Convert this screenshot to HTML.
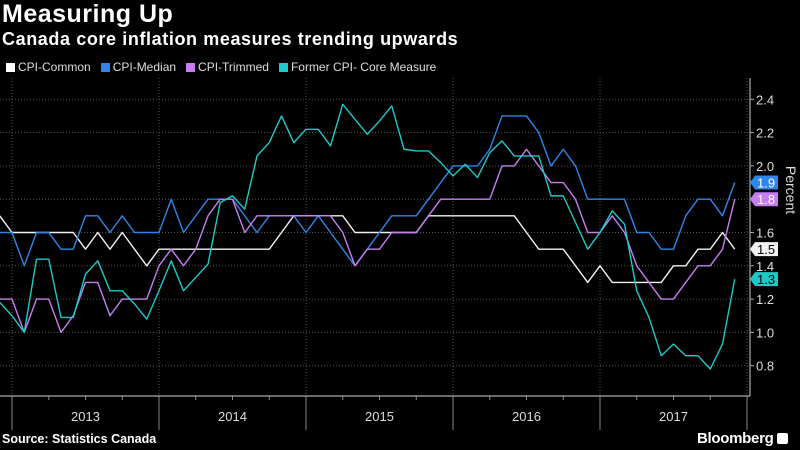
<!DOCTYPE html>
<html><head><meta charset="utf-8">
<style>
html,body{margin:0;padding:0;background:#000;}
body{width:800px;height:450px;overflow:hidden;position:relative;font-family:"Liberation Sans","DejaVu Sans",sans-serif;color:#fff;}
#title{position:absolute;left:2px;top:0px;font-size:25px;font-weight:bold;letter-spacing:0.5px;}
#subtitle{position:absolute;left:2px;top:29px;font-size:18px;font-weight:bold;letter-spacing:0.6px;}
#legend{position:absolute;left:6px;top:60px;font-size:12px;color:#ddd;display:flex;gap:10px;}
.lg{display:flex;align-items:center;}
.sw{width:9px;height:9px;margin-right:3px;display:inline-block;}
#source{position:absolute;left:2px;top:432px;font-size:12.5px;font-weight:bold;}
#brand{position:absolute;left:697px;top:430px;font-size:15px;font-weight:bold;letter-spacing:-0.3px;}
svg{position:absolute;left:0;top:0;}
</style></head><body>
<div id="title">Measuring Up</div>
<div id="subtitle">Canada core inflation measures trending upwards</div>
<div id="legend">
 <span class="lg"><span class="sw" style="background:#fff"></span>CPI-Common</span>
 <span class="lg"><span class="sw" style="background:#2f86e8"></span>CPI-Median</span>
 <span class="lg"><span class="sw" style="background:#c67ef0"></span>CPI-Trimmed</span>
 <span class="lg"><span class="sw" style="background:#1fc9c9"></span>Former CPI- Core Measure</span>
</div>
<div id="source">Source: Statistics Canada</div>
<div id="brand">Bloomberg <span style="display:inline-block;width:11px;height:11px;background:#fff;border-radius:2px;vertical-align:-1px"></span></div>
<svg id="chart" width="800" height="450"></svg>
<script>
const years = ["2013","2014","2015","2016","2017"];
const yTicks = [0.8,1.0,1.2,1.4,1.6,1.8,2.0,2.2,2.4];
const common = [1.7,1.6,1.6,1.6,1.6,1.6,1.6,1.5,1.6,1.5,1.6,1.5,1.4,1.5,1.5,1.5,1.5,1.5,1.5,1.5,1.5,1.5,1.5,1.6,1.7,1.7,1.7,1.7,1.7,1.6,1.6,1.6,1.6,1.6,1.6,1.7,1.7,1.7,1.7,1.7,1.7,1.7,1.7,1.6,1.5,1.5,1.5,1.4,1.3,1.4,1.3,1.3,1.3,1.3,1.3,1.4,1.4,1.5,1.5,1.6,1.5];
const median = [1.6,1.6,1.4,1.6,1.6,1.5,1.5,1.7,1.7,1.6,1.7,1.6,1.6,1.6,1.8,1.6,1.7,1.8,1.8,1.8,1.7,1.6,1.7,1.7,1.7,1.6,1.7,1.6,1.5,1.4,1.5,1.6,1.7,1.7,1.7,1.8,1.9,2.0,2.0,2.0,2.1,2.3,2.3,2.3,2.2,2.0,2.1,2.0,1.8,1.8,1.8,1.8,1.6,1.6,1.5,1.5,1.7,1.8,1.8,1.7,1.9];
const trimmed = [1.2,1.2,1.0,1.2,1.2,1.0,1.1,1.3,1.3,1.1,1.2,1.2,1.2,1.4,1.5,1.4,1.5,1.7,1.8,1.8,1.6,1.7,1.7,1.7,1.7,1.7,1.7,1.7,1.6,1.4,1.5,1.5,1.6,1.6,1.6,1.7,1.8,1.8,1.8,1.8,1.8,2.0,2.0,2.1,2.0,1.9,1.9,1.8,1.6,1.6,1.7,1.6,1.4,1.3,1.2,1.2,1.3,1.4,1.4,1.5,1.8];
const former = [1.18,1.1,1.0,1.44,1.44,1.09,1.09,1.35,1.43,1.25,1.25,1.17,1.08,1.25,1.43,1.25,1.33,1.41,1.78,1.82,1.74,2.06,2.14,2.3,2.14,2.22,2.22,2.12,2.37,2.28,2.19,2.27,2.36,2.1,2.09,2.09,2.02,1.94,2.01,1.93,2.08,2.15,2.06,2.06,2.06,1.82,1.82,1.66,1.5,1.6,1.73,1.65,1.25,1.09,0.86,0.93,0.86,0.86,0.78,0.93,1.32];
const NS="http://www.w3.org/2000/svg";
const svg=document.getElementById('chart');
const xAt=i=>12.25*i-0.25;
const yAt=v=>99.3+(2.4-v)/0.2*33.3;
function mk(tag,attrs,parent){const e=document.createElementNS(NS,tag);for(const k in attrs)e.setAttribute(k,attrs[k]);(parent||svg).appendChild(e);return e;}
yTicks.forEach(v=>{
 const g=mk('line',{x1:0,x2:750,y1:yAt(v),y2:yAt(v),stroke:'#555','stroke-dasharray':'1,2','stroke-width':1});
 
 
 const t=mk('line',{x1:750,x2:754,y1:yAt(v),y2:yAt(v),stroke:'#aaa'});
 
 
 const l=mk('text',{x:756,y:yAt(v)+5,fill:'#ddd','font-size':13});
 l.textContent=v.toFixed(1);
 
 
});
for(let k=0;k<=years.length;k++){
 const x=xAt(1+12*k);
 const g=mk('line',{x1:x,x2:x,y1:78,y2:396,stroke:'#555','stroke-dasharray':'1,2'});
 
 
 const t=mk('line',{x1:x,x2:x,y1:396,y2:430,stroke:'#888'});
 
 
}
for(let q=1;q<20;q++){if(q%4===0)continue;const x=xAt(1+3*q);
 const t=mk('line',{x1:x,x2:x,y1:396,y2:400,stroke:'#888'});
 
 }
years.forEach((y,k)=>{
 const t=mk('text',{x:xAt(1+12*k+6),y:421,fill:'#ddd','font-size':13,'text-anchor':'middle'});
 t.textContent=y;
 
 
});
const ax=mk('line',{x1:0,x2:750,y1:396,y2:396,stroke:'#aaa','stroke-width':1.2});


const ay=mk('line',{x1:750,x2:750,y1:78,y2:396,stroke:'#aaa','stroke-width':1.2});


const yt=mk('text',{x:0,y:0,fill:'#ddd','font-size':14,transform:'translate(786,190) rotate(90)','text-anchor':'middle'});
yt.textContent='Percent';


const series=[[common,'#f2f2f2','cpi-common','#000'],[median,'#2f86e8','cpi-median','#fff'],[trimmed,'#c67ef0','cpi-trimmed','#fff'],[former,'#1fc9c9','former-core','#000']];
series.forEach(([d,c,n])=>{
 const p=mk('polyline',{points:d.map((v,i)=>xAt(i)+','+yAt(v)).join(' '),fill:'none',stroke:c,'stroke-width':1.4,'stroke-linejoin':'round'});
 
 
});
const ends=series.map(s=>({v:s[0][s[0].length-1],c:s[1],n:s[2],tc:s[3]}));
const sorted=[...ends].sort((a,b)=>b.v-a.v);let last=-1e9;
sorted.forEach(e=>{let y=yAt(e.v);if(y<last+16)y=last+16;last=y;e.y=y;});
ends.forEach(e=>{
 const g=mk('g',{});
 
 
 mk('path',{d:`M750 ${e.y} L755 ${e.y-7} L778 ${e.y-7} L778 ${e.y+7} L755 ${e.y+7} Z`,fill:e.c},g);
 const t=mk('text',{x:757,y:e.y+5,fill:e.tc,'font-size':13},g);
 t.textContent=e.v.toFixed(1);
});
</script>
</body></html>
